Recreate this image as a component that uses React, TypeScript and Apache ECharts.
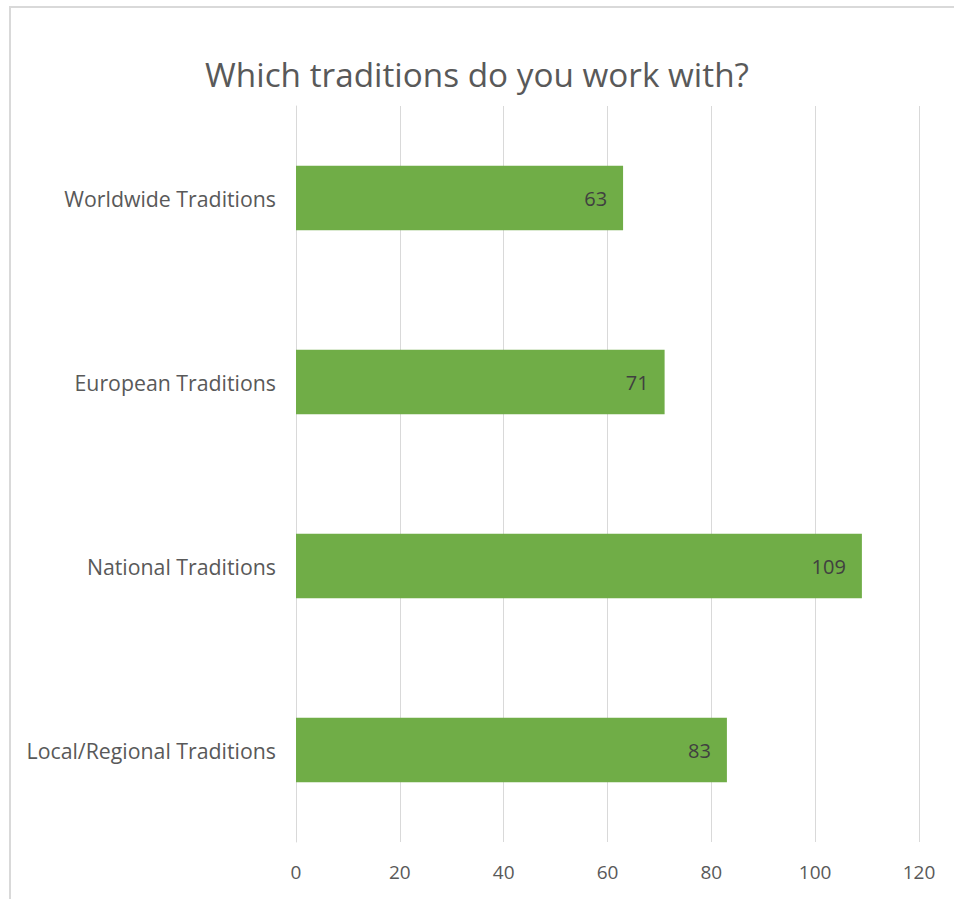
import React, { useEffect, useRef } from "react";
import * as echarts from "echarts";

const categories = ["Worldwide Traditions", "European Traditions", "National Traditions", "Local/Regional Traditions"];
const values = [63, 71, 109, 83];
const titleText = "Which traditions do you work with?";

export default function App() {
  const ref = useRef<HTMLDivElement>(null);
  useEffect(() => {
    if (!ref.current) return;
    const chart = echarts.init(ref.current, undefined, { renderer: "svg" });
    chart.setOption({
      animation: false,
      backgroundColor: "#ffffff",
      title: {
        text: titleText,
        left: "center",
        top: 52,
        textStyle: { fontFamily: "Open Sans", fontSize: 33.3, fontWeight: "normal", color: "#595959" },
      },
      graphic: [
        {
          type: "rect",
          shape: { x: 10, y: 7, width: 960, height: 920 },
          style: { fill: "none", stroke: "#d9d9d9", lineWidth: 2 },
          silent: true,
        },
      ],
      grid: { left: 296, right: 35, top: 106, bottom: 57, containLabel: false },
      xAxis: {
        type: "value",
        min: 0,
        max: 120,
        interval: 20,
        axisLine: { show: false },
        axisTick: { show: false },
        splitLine: { show: true, lineStyle: { color: "#d9d9d9", width: 1 } },
        axisLabel: { color: "#595959", fontSize: 19, fontFamily: "Open Sans", margin: 20 },
      },
      yAxis: {
        type: "category",
        data: categories,
        inverse: true,
        axisLine: { show: true, lineStyle: { color: "#d9d9d9" } },
        axisTick: { show: false },
        axisLabel: { color: "#595959", fontSize: 21.3, fontFamily: "Open Sans", margin: 20 },
      },
      series: [
        {
          type: "bar",
          data: values,
          barCategoryGap: "65%",
          itemStyle: { color: "#70ad47" },
          label: {
            show: true,
            position: "insideRight",
            distance: 16,
            color: "#404040",
            fontSize: 20,
            fontFamily: "Open Sans",
          },
        },
      ],
    });
    return () => chart.dispose();
  }, []);
  return <div ref={ref} style={{ position: "absolute", left: 0, top: 0, width: 954, height: 899 }} />;
}
